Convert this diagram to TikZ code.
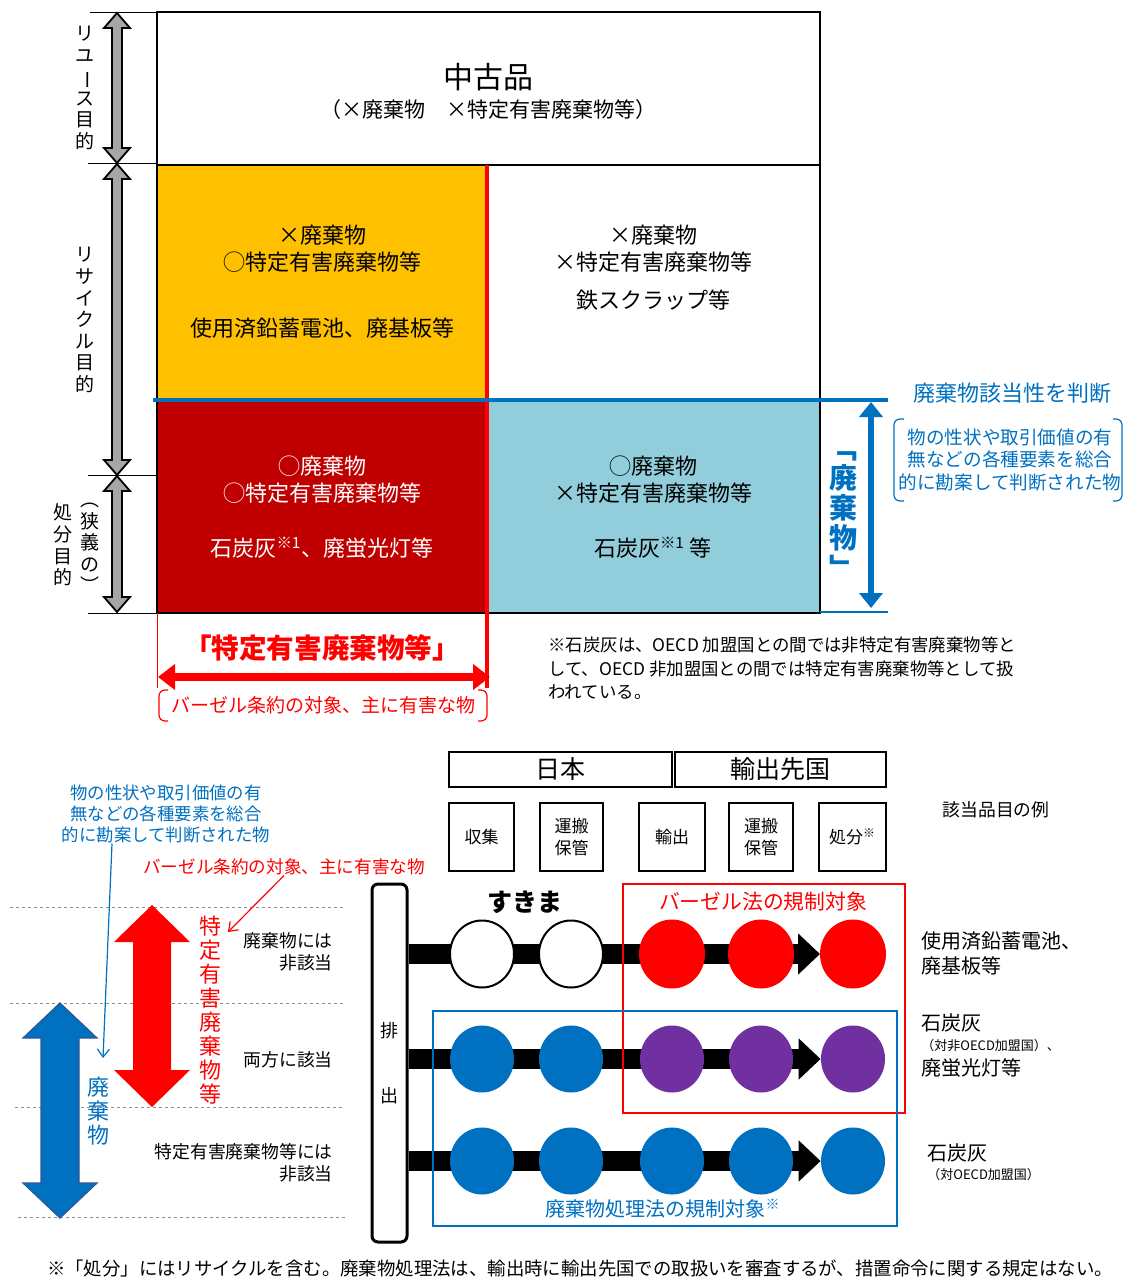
\documentclass[tikz,border=0pt]{standalone}
\usepackage{fontspec}
\setmainfont{Noto Sans CJK JP}
\usepackage{graphicx}
\usetikzlibrary{arrows.meta,shapes.geometric,backgrounds}

\definecolor{cellyellow}{HTML}{FFC000}
\definecolor{celldarkred}{HTML}{C00000}
\definecolor{celllightblue}{HTML}{92CDDC}
\definecolor{wasteblue}{HTML}{0070C0}
\definecolor{wasteblueedge}{HTML}{2F5597}
\definecolor{bothpurple}{HTML}{7030A0}
\definecolor{basered}{HTML}{FF0000}
\definecolor{arrowgray}{HTML}{A6A6A6}

\newcommand{\fsz}[2]{\fontsize{#1}{#2}\selectfont}
\newcommand{\vbar}{\rotatebox[origin=c]{-90}{ー}}
% fat double arrow: style, x, top, bottom, shaft half, head half, head length
\newcommand{\fatdbl}[7]{%
  \draw[#1] (#2,#3) -- (#2+#6,#3+#7) -- (#2+#5,#3+#7) -- (#2+#5,#4-#7)
    -- (#2+#6,#4-#7) -- (#2,#4) -- (#2-#6,#4-#7) -- (#2-#5,#4-#7)
    -- (#2-#5,#3+#7) -- (#2-#6,#3+#7) -- cycle;}

\begin{document}
\begin{tikzpicture}
  [x=0.5pt, y=-0.5pt,
  txt/.style={inner sep=0pt, align=center},
  celltxt/.style={txt, font=\fsz{11}{13.5}},
  sidetxt/.style={txt, font=\fsz{9.5}{10.8}},
  tick/.style={draw=black, line width=0.4pt},
  grayarrow/.style={fill=arrowgray, draw=black, line width=0.9pt, line join=miter},
  headbox/.style={draw=black, line width=1.2pt, inner sep=0pt, minimum height=17.5pt, font=\fsz{12.5}{14}},
  stepbox/.style={draw=black, line width=1.2pt, inner sep=0pt, minimum height=34pt, align=center, font=\fsz{8.5}{11}},
  dot/.style={ellipse, inner sep=0pt, minimum width=32pt, minimum height=33.5pt},
  flowbar/.style={line width=10pt, -{Triangle[length=11pt,width=20pt]}},
  guide/.style={draw=black!45, dash pattern=on 1.5pt off 1.5pt, line width=0.5pt},
  exa/.style={inner sep=0pt, anchor=west, align=left, font=\fsz{10}{12.5}},
  exsmall/.style={inner sep=0pt, anchor=west, font=\fsz{6.5}{8}},
  thinarrow/.style={line width=0.6pt, -{Straight Barb[length=4pt,width=6pt]}}]
  \useasboundingbox (0,0) rectangle (1126,1278);

  % upper table
  \draw[line width=1pt] (157,12) rectangle (820,165);
  \node[txt, font=\fsz{15}{18}] (used) at (488,77) {中古品};
  \node[txt, font=\fsz{10.5}{12}] (usednote) at (488,110) {（×廃棄物　×特定有害廃棄物等）};
  \filldraw[fill=cellyellow, line width=1pt] (157,165) rectangle (487,400);
  \draw[line width=1pt] (487,165) rectangle (820,400);
  \filldraw[fill=celldarkred, line width=1pt] (157,400) rectangle (487,613);
  \filldraw[fill=celllightblue, line width=1pt] (487,400) rectangle (820,613);

  \node[celltxt] (ylwhead) at (322,248.5) {×廃棄物\\◯特定有害廃棄物等};
  \node[celltxt] (ylwex) at (322,328) {使用済鉛蓄電池、廃基板等};
  \node[celltxt] (whthead) at (653,248.5) {×廃棄物\\×特定有害廃棄物等};
  \node[celltxt] (whtex) at (653,300) {鉄スクラップ等};
  \node[celltxt, text=white] (redhead) at (322,479.5) {◯廃棄物\\◯特定有害廃棄物等};
  \node[celltxt, text=white] (redex) at (322,548) {石炭灰\textsuperscript{※1}、廃蛍光灯等};
  \node[celltxt] (bluhead) at (653,479.5) {◯廃棄物\\×特定有害廃棄物等};
  \node[celltxt] (bluex) at (653,548) {石炭灰\textsuperscript{※1} 等};

  \draw[basered, line width=2pt] (487,165) -- (487,688);
  \draw[wasteblue, line width=1.8pt] (153,400) -- (888,400);

  % purposes on the left
  \draw[tick] (90,12) -- (157,12);
  \draw[tick] (88,163) -- (157,163);
  \draw[tick] (88,475) -- (157,475);
  \draw[tick] (88,613) -- (157,613);
  \fatdbl{grayarrow}{117}{13}{163}{5}{13}{15}
  \fatdbl{grayarrow}{117}{164}{475}{5}{13}{15}
  \fatdbl{grayarrow}{117}{476}{612}{5}{13}{15}
  \node[sidetxt] (reuse) at (85,88) {リ\\ユ\\\vbar\\ス\\目\\的};
  \node[sidetxt] (recycle) at (85,320) {リ\\サ\\イ\\ク\\ル\\目\\的};
  \node[sidetxt] (narrow) at (90,548) {︵\\狭\\義\\の\\︶};
  \node[sidetxt] (disposal) at (63,545) {処\\分\\目\\的};

  % waste judgement on the right
  \draw[wasteblue, line width=1pt] (820,612) -- (888,612);
  \draw[wasteblue, line width=3pt, {Triangle[length=7.5pt,width=11.5pt]}-{Triangle[length=7.5pt,width=11.5pt]}] (871,402) -- (871,608);
  \node[txt, text=wasteblue, font=\bfseries\fsz{14}{15}] (wastev) at (843,515) {﹁\\廃\\棄\\物\\﹂};
  \node[txt, text=wasteblue, font=\fsz{11}{13}] (judge) at (1012,393) {廃棄物該当性を判断};
  \node[txt, text=wasteblue, font=\fsz{9.3}{11.3}] (judgenote) at (1010,460) {物の性状や取引価値の有\\無などの各種要素を総合\\的に勘案して判断された物};
  \draw[wasteblue, line width=0.6pt, rounded corners=3pt] (904,419) -- (894,419) -- (894,501) -- (904,501);
  \draw[wasteblue, line width=0.6pt, rounded corners=3pt] (1113,419) -- (1122,419) -- (1122,501) -- (1113,501);

  % specified hazardous waste below
  \draw[basered, line width=0.5pt] (157,613) -- (157,688);
  \draw[basered, line width=4pt, {Triangle[length=8.5pt,width=12.5pt]}-{Triangle[length=8.5pt,width=12.5pt]}] (158,677) -- (490,677);
  \node[txt, text=basered, font=\bfseries\fsz{13.8}{16}] (specified) at (322,648) {「特定有害廃棄物等」};
  \node[txt, text=basered, font=\fsz{9.5}{11}] (basel) at (323,705) {バーゼル条約の対象、主に有害な物};
  \draw[basered, line width=0.6pt, rounded corners=3pt] (168,690) -- (159,690) -- (159,721) -- (168,721);
  \draw[basered, line width=0.6pt, rounded corners=3pt] (478,690) -- (487,690) -- (487,721) -- (478,721);
  \node[txt, anchor=west, align=left, font=\fsz{8.7}{11.75}] (coalnote) at (548,668.5) {※石炭灰は、OECD 加盟国との間では非特定有害廃棄物等と\\して、OECD 非加盟国との間では特定有害廃棄物等として扱\\われている。};

  % flow of exports
  \node[headbox, minimum width=111.5pt] (japan) at (560.5,769.5) {日本};
  \node[headbox, minimum width=105.5pt] (dest) at (780.5,769.5) {輸出先国};
  \node[stepbox, minimum width=32.5pt] (collect) at (481.5,837) {収集};
  \node[stepbox, minimum width=31.5pt] (carry1) at (571.5,837) {運搬\\保管};
  \node[stepbox, minimum width=33pt] (export) at (672,837) {輸出};
  \node[stepbox, minimum width=32pt] (carry2) at (761,837) {運搬\\保管};
  \node[stepbox, minimum width=33.5pt] (dispose) at (852.5,837) {処分\textsuperscript{※}};
  \node[txt, font=\fsz{8.9}{11}] (extitle) at (996,810) {該当品目の例};

  \node[draw=black, line width=1.5pt, rounded corners=3pt, minimum width=17.5pt, minimum height=179pt,
    inner sep=0pt, align=center, font=\fsz{9}{32.5}] (haishutsu) at (389.5,1063) {排\\出};

  \foreach \cx/\col/\edge [count=\i] in {482/white/black,571/white/black,672/basered/basered,761/basered/basered,853/basered/basered}
    \node[dot, fill=\col, draw=\edge, line width=1pt] (ra\i) at (\cx,954) {};
  \foreach \cx/\col [count=\i] in {482/wasteblue,571/wasteblue,672/bothpurple,761/bothpurple,853/bothpurple}
    \node[dot, fill=\col] (rb\i) at (\cx,1059) {};
  \foreach \cx [count=\i] in {482,571,672,761,853}
    \node[dot, fill=wasteblue] (rc\i) at (\cx,1161) {};
  \begin{scope}[on background layer]
    \foreach \rw in {a,b,c}
      \draw[flowbar] (haishutsu.east |- r\rw1) -- (r\rw5.west);
  \end{scope}

  \node[txt, font=\bfseries\fsz{12.5}{14}] (gap) at (525,902) {すきま};
  \draw[basered, line width=1.2pt] (623,884) rectangle (905,1113);
  \node[txt, text=basered, font=\fsz{10.4}{12}] (baselaw) at (763,902) {バーゼル法の規制対象};
  \draw[wasteblue, line width=1.2pt] (433,1011) rectangle (897,1226);
  \node[txt, text=wasteblue, font=\fsz{10}{12}] (wastelaw) at (663,1209) {廃棄物処理法の規制対象\textsuperscript{※}};

  \node[exa] (ex1) at (921,953) {使用済鉛蓄電池、\\廃基板等};
  \node[exa] (ex2a) at (921,1023) {石炭灰};
  \node[exsmall] (ex2b) at (921,1046) {（対非OECD加盟国）、};
  \node[exa] (ex2c) at (921,1068) {廃蛍光灯等};
  \node[exa] (ex3a) at (927,1153) {石炭灰};
  \node[exsmall] (ex3b) at (927,1175) {（対OECD加盟国）};

  % ranges on the lower left
  \draw[guide] (10,907) -- (345,907);
  \draw[guide] (10,1003) -- (345,1003);
  \draw[guide] (15,1107) -- (345,1107);
  \draw[guide] (18,1217) -- (345,1217);
  \fatdbl{fill=basered, draw=none}{152}{905}{1107}{19}{38}{37}
  \fatdbl{fill=wasteblue, draw=wasteblueedge, line width=0.6pt}{60}{1003}{1218}{19}{37}{35}
  \node[txt, text=basered, font=\fsz{11}{12}] (specv) at (210,1010) {特\\定\\有\\害\\廃\\棄\\物\\等};
  \node[txt, text=wasteblue, font=\fsz{11}{12}] (wastevb) at (98,1111) {廃\\棄\\物};
  \node[txt, anchor=east, align=right, font=\fsz{8.9}{11}] (notwaste) at (333,952) {廃棄物には\\非該当};
  \node[txt, anchor=east, font=\fsz{8.9}{11}] (both) at (333,1060) {両方に該当};
  \node[txt, anchor=east, align=right, font=\fsz{8.9}{11}] (notspec) at (333,1163) {特定有害廃棄物等には\\非該当};

  \node[txt, text=wasteblue, font=\fsz{8.7}{10.5}] (bluenote) at (166,814) {物の性状や取引価値の有\\無などの各種要素を総合\\的に勘案して判断された物};
  \node[txt, text=basered, font=\fsz{8.8}{10}] (redlabel) at (284,867) {バーゼル条約の対象、主に有害な物};
  \coordinate (bluetip) at (103,1058);
  \coordinate (redtip) at (228,932);
  \draw[wasteblue, thinarrow] ([xshift=-27pt]bluenote.south) -- (bluetip);
  \draw[basered, thinarrow] (redlabel.south) -- (redtip);

  \node[txt, font=\fsz{9.2}{11}] (footer) at (580,1268) {※「処分」にはリサイクルを含む。廃棄物処理法は、輸出時に輸出先国での取扱いを審査するが、措置命令に関する規定はない。};
\end{tikzpicture}
\end{document}
